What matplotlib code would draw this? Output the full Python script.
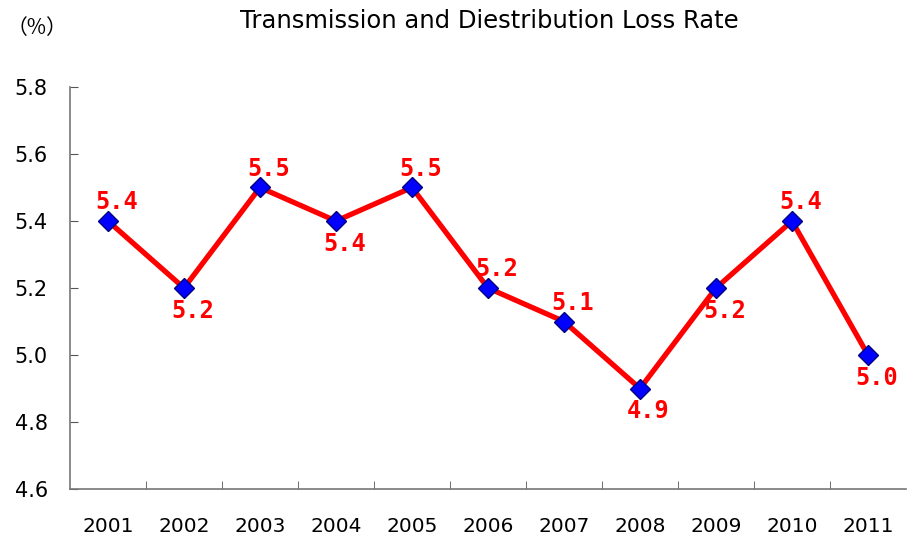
import matplotlib
matplotlib.use("Agg")
import matplotlib.pyplot as plt
from matplotlib.ticker import FixedLocator, NullFormatter

years = ["2001", "2002", "2003", "2004", "2005", "2006", "2007", "2008", "2009", "2010", "2011"]
loss_rate = [5.4, 5.2, 5.5, 5.4, 5.5, 5.2, 5.1, 4.9, 5.2, 5.4, 5.0]
label_pos = ["above", "below", "above", "below", "above", "above", "above", "below", "below", "above", "below"]
y_ticks = [4.6, 4.8, 5.0, 5.2, 5.4, 5.6, 5.8]

fig = plt.figure(figsize=(9.1, 5.41), dpi=100)
ax = fig.add_axes([0.0769, 0.0961, 0.9187, 0.7431])

x = list(range(len(years)))
ax.plot(x, loss_rate, color="#FF0000", linewidth=3.8, marker="D", markersize=10.5,
        markerfacecolor="#0000FF", markeredgecolor="#000080", markeredgewidth=1.0, zorder=3)

for xi, v, pos in zip(x, loss_rate, label_pos):
    off = 13.5 if pos == "above" else -16.5
    ax.annotate(f"{v:.1f}", (xi, v), xytext=(6, off), textcoords="offset points",
                ha="center", va="center", color="#FF0000", fontsize=17,
                fontweight="bold", family="DejaVu Sans Mono", zorder=4)

ax.set_xlim(-0.5, len(years) - 0.5)
ax.set_ylim(4.6, 5.8)
ax.set_yticks(y_ticks)
ax.set_yticklabels([f"{t:.1f}" for t in y_ticks], fontsize=15)
ax.set_xticks(x)
ax.set_xticklabels(years, fontsize=14.5)
ax.tick_params(axis="x", which="major", length=0, pad=20)
ax.xaxis.set_minor_locator(FixedLocator([i + 0.5 for i in range(len(years) - 1)]))
ax.xaxis.set_minor_formatter(NullFormatter())
ax.tick_params(axis="x", which="minor", direction="in", length=6, color="#555555")
ax.tick_params(axis="y", direction="in", length=6, color="#555555", pad=16)

for s in ["top", "right"]:
    ax.spines[s].set_visible(False)
for s in ["left", "bottom"]:
    ax.spines[s].set_color("#777777")
    ax.spines[s].set_linewidth(1.2)

fig.text(0.538, 0.962, "Transmission and Diestribution Loss Rate", ha="center", va="center", fontsize=17.5)
fig.text(0.041, 0.948, "（%）", ha="center", va="center", fontsize=15,
         family=["Noto Sans CJK SC", "DejaVu Sans"])

fig.savefig("out.png", dpi=100)
